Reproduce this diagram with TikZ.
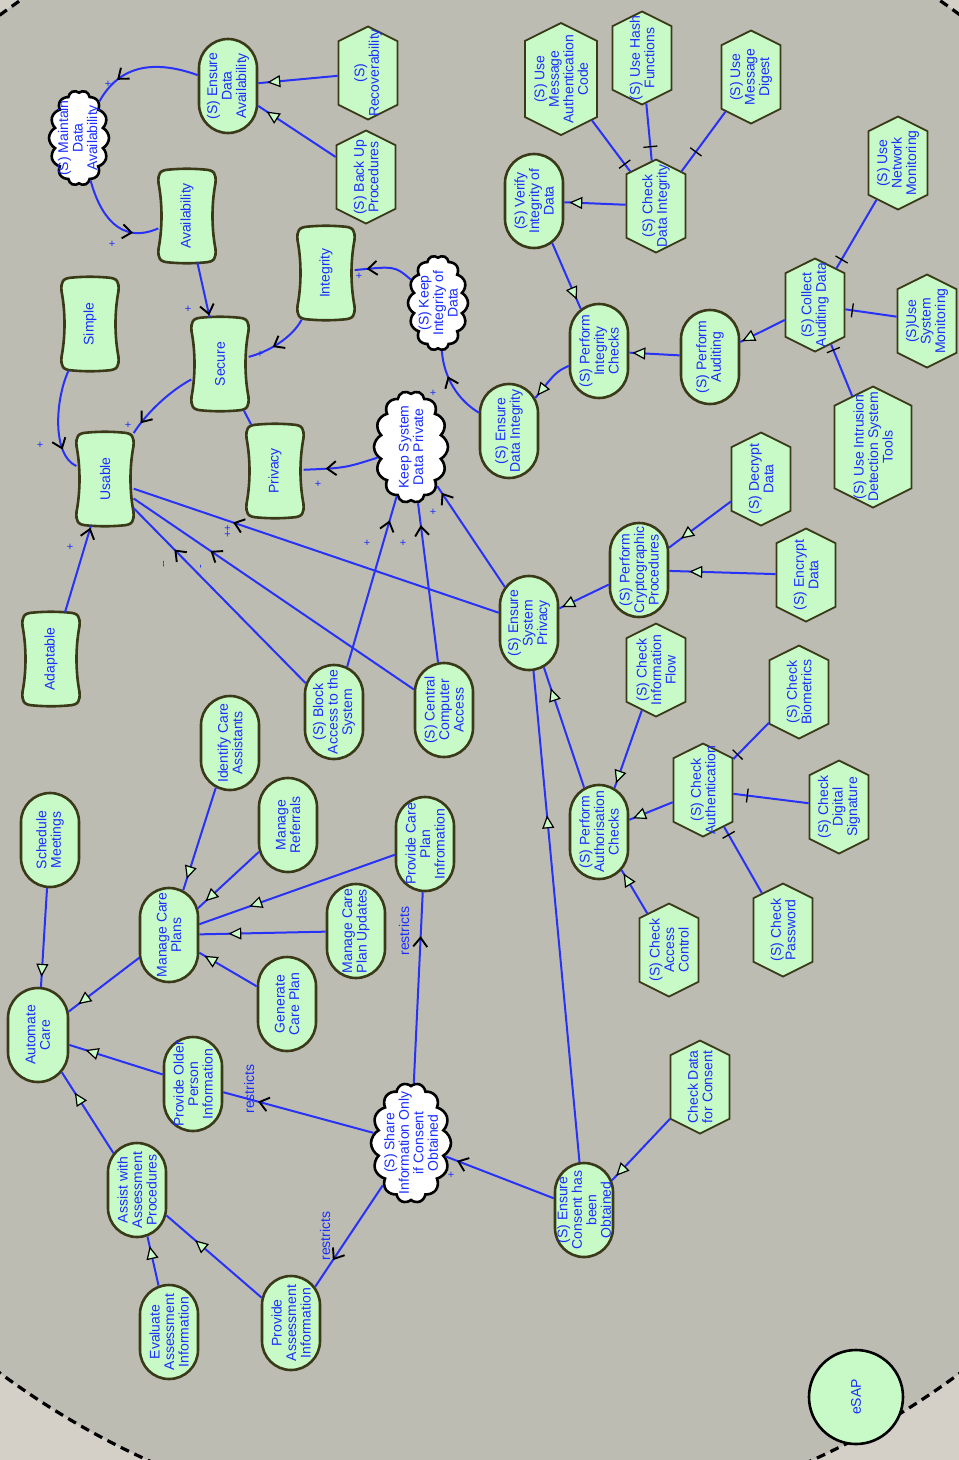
\documentclass[tikz,border=0pt]{standalone}
\usepackage{fontspec}
\setmainfont{Liberation Sans}
\usetikzlibrary{shapes.misc,shapes.symbols,arrows.meta,decorations.markings}

\definecolor{outbg}{RGB}{212,208,200}
\definecolor{inbg}{RGB}{189,188,179}
\definecolor{nfill}{RGB}{200,250,200}
\definecolor{bord}{RGB}{58,58,24}
\definecolor{tblue}{RGB}{25,45,255}
\definecolor{lblue}{RGB}{40,50,245}

\tikzset{
  txt/.style={rotate=90, align=center, text=tblue, inner sep=0pt, font=\fontsize{14}{14.5}\selectfont},
  goalshape/.style={rounded rectangle, draw=bord, fill=nfill, line width=2.6pt, rotate=90,
    minimum width=94pt, minimum height=58pt, inner sep=0pt},
  taskshape/.style={signal, signal to=east and west, signal pointer angle=127, draw=bord, fill=nfill,
    line width=1.8pt, rotate=90, minimum width=93pt, minimum height=59pt, inner sep=0pt},
  cloudshape/.style={cloud, cloud puffs=14, cloud puff arc=125, cloud ignores aspect, draw=black,
    fill=white, line width=2.6pt, rotate=90, inner sep=0pt},
  pillowbox/.style={rectangle, minimum width=57pt, minimum height=93pt, inner sep=0pt},
  pillowline/.style={draw=bord, fill=nfill, line width=2.6pt},
  actorshape/.style={circle, draw=black, fill=nfill, line width=2.6pt, minimum size=94pt, inner sep=0pt},
  link/.style={draw=lblue, line width=2pt},
  meansend/.style={link, postaction={decorate, decoration={markings, mark=at position #1 with
    {\arrow{Triangle[length=13pt, width=12pt, fill=nfill, color=black, line width=1.2pt]}}}}},
  contrib/.style={link, postaction={decorate, decoration={markings, mark=at position #1 with
    {\arrow{Straight Barb[length=9pt, width=14pt, color=black, line width=1.9pt]}}}}},
  restr/.style={contrib=#1},
  decomp/.style={link, postaction={decorate, decoration={markings, mark=at position #1 with
    {\draw[black, line width=1.3pt] (0pt,-7pt) -- (0pt,7pt);}}}},
  lbl/.style={text=tblue, inner sep=0pt, font=\fontsize{11}{11}\selectfont},
  rlbl/.style={lbl, rotate=90, font=\fontsize{14}{14}\selectfont},
  boundary/.style={draw=black, line width=3.2pt, dash pattern=on 9pt off 6pt},
}

% shaped element: style, name, x, y, text
\newcommand\inode[5]{%
  \node[#1] (#2) at (#3,#4) {};
  \node[txt] (#2-t) at (#2.center) {#5};}

% softgoal pillow: name, x, y, text
\newcommand\softgoalnode[4]{%
  \begin{scope}[shift={(#2,#3)}]
    \path[pillowline] (-17,-46.5) .. controls (-5,-47.5) and (5,-47.5) .. (17,-46.5)
      .. controls (28,-46) and (29,-42) .. (28.5,-33)
      .. controls (24.5,-12) and (24.5,12) .. (28.5,33)
      .. controls (29,42) and (28,46) .. (17,46.5)
      .. controls (5,47.5) and (-5,47.5) .. (-17,46.5)
      .. controls (-28,46) and (-29,42) .. (-28.5,33)
      .. controls (-24.5,12) and (-24.5,-12) .. (-28.5,-33)
      .. controls (-29,-42) and (-28,-46) .. (-17,-46.5) -- cycle;
  \end{scope}
  \node[pillowbox] (#1) at (#2,#3) {};
  \node[txt] (#1-t) at (#1.center) {#4};}

\begin{document}
\begin{tikzpicture}[x=1pt, y=-1pt]
\useasboundingbox (0,0) rectangle (959,1460);

% actor boundary
\begin{scope}
  \clip (0,0) rectangle (959,1460);
  \fill[outbg] (0,0) rectangle (959,1460);
  \fill[inbg] (480,694) ellipse [x radius=819, y radius=838];
  \path[boundary] (480,694) ellipse [x radius=819, y radius=838];
\end{scope}

% availability branch
\inode{goalshape}{eda}{228}{86}{(S) Ensure\\Data\\Availability}
\inode{cloudshape, minimum width=95pt, minimum height=60pt}{mda}{79}{138}{(S) Maintain\\Data\\Availability}
\inode{taskshape}{recov}{368}{73}{(S)\\Recoverability}
\inode{taskshape}{backup}{366}{177}{(S) Back Up\\Procedures}

% quality softgoals
\softgoalnode{avail}{187}{216}{Availability}
\softgoalnode{simple}{90}{324}{Simple}
\softgoalnode{secure}{220}{364}{Secure}
\softgoalnode{integ}{326}{273}{Integrity}
\softgoalnode{privacy}{275}{471}{Privacy}
\softgoalnode{usable}{105}{479}{Usable}
\softgoalnode{adapt}{51}{659}{Adaptable}

% integrity branch
\inode{taskshape, minimum width=112pt, minimum height=72pt}{umac}{561}{79}{(S) Use\\Message\\Authentication\\Code}
\inode{taskshape}{hash}{642}{58}{(S) Use Hash\\Functions}
\inode{taskshape}{digest}{751}{77}{(S) Use\\Message\\Digest}
\inode{goalshape}{verify}{534}{201}{(S) Verify\\Integrity of\\Data}
\inode{taskshape}{cdi}{656}{206}{(S) Check\\Data Integrity}
\inode{cloudshape, minimum width=95pt, minimum height=60pt}{kid}{438}{303}{(S) Keep\\Integrity of\\Data}
\inode{taskshape}{netmon}{898}{163}{(S) Use\\Network\\Monitoring}
\inode{taskshape}{collect}{815}{305}{(S) Collect\\Auditing Data}
\inode{taskshape}{sysmon}{927}{321}{(S)Use\\System\\Monitoring}
\inode{goalshape}{audit}{710}{357}{(S) Perform\\Auditing}
\inode{goalshape}{pic}{599}{351}{(S) Perform\\Integrity\\Checks}
\inode{goalshape}{edi}{509}{431}{(S) Ensure\\Data Integrity}
\inode{taskshape, minimum width=121pt, minimum height=77pt}{ids}{873}{447}{(S) Use Intrusion\\Detection System\\Tools}

% privacy branch
\inode{cloudshape, minimum width=112pt, minimum height=74pt}{ksdp}{411}{447}{Keep System\\Data Private}
\inode{taskshape}{decrypt}{761}{479}{(S) Decrypt\\Data}
\inode{taskshape}{encrypt}{806}{575}{(S) Encrypt\\Data}
\inode{goalshape}{crypto}{639}{570}{(S) Perform\\Cryptographic\\Procedures}
\inode{goalshape}{esp}{529}{623}{(S) Ensure\\System\\Privacy}
\inode{goalshape}{block}{334}{712}{(S) Block\\Access to the\\System}
\inode{goalshape}{central}{444}{710}{(S) Central\\Computer\\Access}
\inode{taskshape}{cif}{656}{670}{(S) Check\\Information\\Flow}
\inode{taskshape}{biom}{799}{692}{(S) Check\\Biometrics}
\inode{taskshape}{auth}{703}{790}{(S) Check\\Authentication}
\inode{taskshape}{digsig}{839}{807}{(S) Check\\Digital\\Signature}
\inode{taskshape}{passw}{783}{930}{(S) Check\\Password}
\inode{taskshape}{acc}{669}{950}{(S) Check\\Access\\Control}
\inode{taskshape}{cdc}{700}{1087}{Check Data\\for Consent}
\inode{goalshape}{pac}{599}{832}{(S) Perform\\Authorisation\\Checks}

% care branch
\inode{goalshape}{pcpi}{425}{844}{Provide Care\\Plan\\Infromation}
\inode{goalshape}{mcpu}{356}{931}{Manage Care\\Plan Updates}
\inode{goalshape}{ica}{230}{743}{Identify Care\\Assistants}
\inode{goalshape}{mref}{288}{825}{Manage\\Referrals}
\inode{goalshape}{sched}{50}{840}{Schedule\\Meetings}
\inode{goalshape}{mcp}{169}{935}{Manage Care\\Plans}
\inode{goalshape}{gcp}{287}{1004}{Generate\\Care Plan}
\inode{goalshape, minimum height=60pt}{autoc}{38}{1035}{Automate\\Care}
\inode{goalshape}{popi}{193}{1084}{Provide Older\\Person\\Information}
\inode{goalshape}{aap}{137}{1190}{Assist with\\Assessment\\Procedures}
\inode{goalshape}{eai}{169}{1332}{Evaluate\\Assessment\\Information}
\inode{goalshape}{pai}{291}{1323}{Provide\\Assessment\\Information}
\inode{cloudshape, minimum width=120pt, minimum height=80pt}{share}{411}{1143}{(S) Share\\Information Only\\if Consent\\Obtained}
\inode{goalshape}{eco}{584}{1210}{(S) Ensure\\Consent has\\been\\Obtained}
\inode{actorshape}{esap}{856}{1397}{eSAP}

% contributions
\draw[contrib=-28pt] (eda) .. controls (150,58) and (118,68) .. (mda);
\draw[contrib=-26pt] (mda) .. controls (100,215) and (120,245) .. (avail);
\draw[contrib=-2pt] (avail) -- (secure);
\draw[contrib=-26pt] (integ) .. controls (292,338) and (268,352) .. (secure);
\draw[contrib=-12pt] (kid) .. controls (395,266) .. (integ);
\draw[contrib=-12pt] (secure) .. controls (168,392) and (145,415) .. (usable);
\draw[contrib=-22pt] (simple) .. controls (55,400) and (52,455) .. (usable);
\draw[contrib=-2pt] (adapt) -- (usable);
\draw[link] (privacy) -- (secure);
\draw[contrib=-22pt] (ksdp) .. controls (345,468) .. (privacy);
\draw[contrib=-26pt] (edi) .. controls (458,400) and (444,378) .. (kid);
\draw[contrib=-25pt] (block) -- (ksdp);
\draw[contrib=-22pt] (central) -- (ksdp);
\draw[contrib=-8pt] (esp) -- (ksdp);
\draw[contrib=-105pt] (esp) -- (usable);
\draw[contrib=-93pt] (central) -- (usable);
\draw[contrib=-58pt] (block) -- (usable);
\draw[contrib=-12pt] (eco) -- (share);

% means-end links
\draw[meansend=-9pt] (recov) -- (eda);
\draw[meansend=-10pt] (backup) -- (eda);
\draw[meansend=-3pt] (pic) .. controls (556,372) .. (edi);
\draw[meansend=-10pt] (verify) -- (pic);
\draw[meansend=-5pt] (cdi) -- (verify);
\draw[meansend=-3pt] (audit) -- (pic);
\draw[meansend=-2pt] (collect) -- (audit);
\draw[meansend=-15pt] (decrypt) -- (crypto);
\draw[meansend=-20pt] (encrypt) -- (crypto);
\draw[meansend=-3pt] (crypto) -- (esp);
\draw[meansend=-5pt] (cif) -- (pac);
\draw[meansend=-4pt] (auth) -- (pac);
\draw[meansend=-4pt] (acc) -- (pac);
\draw[meansend=-22pt] (pac) -- (esp);
\draw[meansend=-145pt] (eco) -- (esp);
\draw[meansend=-6pt] (cdc) -- (eco);
\draw[meansend=-12pt] (ica) -- (mcp);
\draw[meansend=-10pt] (mref) -- (mcp);
\draw[meansend=-53pt] (pcpi) -- (mcp);
\draw[meansend=-29pt] (mcpu) -- (mcp);
\draw[meansend=-6pt] (gcp) -- (mcp);
\draw[meansend=-12pt] (mcp) -- (autoc);
\draw[meansend=-10pt] (sched) -- (autoc);
\draw[meansend=-17pt] (popi) -- (autoc);
\draw[meansend=-24pt] (aap) -- (autoc);
\draw[meansend=-10pt] (eai) -- (aap);
\draw[meansend=-38pt] (pai) -- (aap);

% decompositions
\draw[decomp=-9pt] (umac) -- (cdi);
\draw[decomp=-14pt] (hash) -- (cdi);
\draw[decomp=-24pt] (digest) -- (cdi);
\draw[decomp=-10pt] (netmon) -- (collect);
\draw[decomp=-7pt] (sysmon) -- (collect);
\draw[decomp=-6pt] (ids) -- (collect);
\draw[decomp=-6pt] (biom) -- (auth);
\draw[decomp=-14pt] (digsig) -- (auth);
\draw[decomp=-9pt] (passw) -- (auth);

% restrictions
\draw[restr=-44pt] (share) -- (pcpi);
\draw[restr=-36pt] (share) -- (popi);
\draw[restr=-32pt] (share) -- (pai);

% link labels
\node[lbl] (l1) at (108,84) {+};
\node[lbl] (l2) at (112,244) {+};
\node[lbl] (l3) at (188,309) {+};
\node[lbl] (l4) at (260,354) {+};
\node[lbl] (l5) at (359,276) {+};
\node[lbl] (l6) at (128,425) {+};
\node[lbl] (l7) at (40,445) {+};
\node[lbl] (l8) at (70,547) {+};
\node[lbl] (l9) at (318,484) {+};
\node[lbl] (l10) at (433,393) {+};
\node[lbl] (l11) at (367,543) {+};
\node[lbl] (l12) at (403,543) {+};
\node[lbl] (l13) at (433,512) {+};
\node[lbl, rotate=90] (l14) at (228,531) {++};
\node[lbl, rotate=90] (l15) at (202,567) {-};
\node[lbl, rotate=90] (l16) at (165,564) {-{}-};
\node[lbl] (l17) at (451,1175) {+};
\node[rlbl] (r1) at (404,931) {restricts};
\node[rlbl] (r2) at (249,1089) {restricts};
\node[rlbl] (r3) at (325,1236) {restricts};
\end{tikzpicture}
\end{document}
